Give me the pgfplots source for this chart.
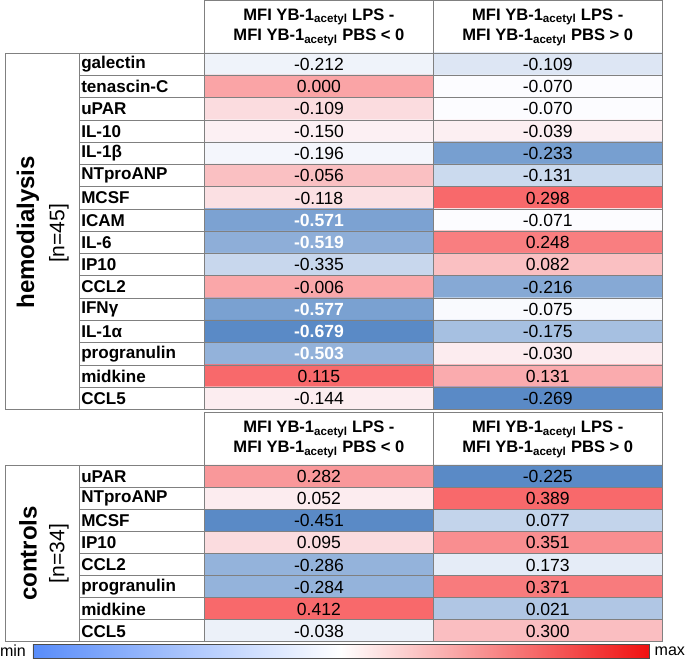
\documentclass[border=0pt]{standalone}
\usepackage{fontspec}
\setmainfont{Liberation Sans}
\usepackage{pgfplots}
\usepackage{pgfplotstable}
\pgfplotsset{compat=1.18}

\definecolor{xlblue}{RGB}{90,138,198}
\definecolor{xlwhite}{RGB}{252,252,255}
\definecolor{xlred}{RGB}{248,105,107}
\definecolor{barblue}{RGB}{88,140,250}
\definecolor{barred}{RGB}{240,16,16}
\definecolor{rule}{RGB}{128,128,128}

\tikzset{
  cellfont/.style={font=\fontsize{17.5}{20}\selectfont},
  namefont/.style={font=\fontsize{17}{20}\selectfont\bfseries},
}

% white bold label for the darkest cells
\protected\def\wb#1{\textcolor{white}{\bfseries #1}}

% c = colour position on the 3-colour scale (-1 min, 0 median, 1 max, per column)
\pgfplotstableread{
col row c label name
0 0 -0.08 -0.212 galectin
1 0 -0.19 -0.109 galectin
0 1 0.60 0.000 tenascin-C
1 1 0.00 -0.070 tenascin-C
0 2 0.22 -0.109 uPAR
1 2 0.00 -0.070 uPAR
0 3 0.08 -0.150 IL-10
1 3 0.09 -0.039 IL-10
0 4 -0.05 -0.196 IL-1β
1 4 -0.82 -0.233 IL-1β
0 5 0.41 -0.056 NTproANP
1 5 -0.30 -0.131 NTproANP
0 6 0.19 -0.118 MCSF
1 6 1.00 0.298 MCSF
0 7 -0.79 \wb{-0.571} ICAM
1 7 0.00 -0.071 ICAM
0 8 -0.68 \wb{-0.519} IL-6
1 8 0.86 0.248 IL-6
0 9 -0.32 -0.335 IP10
1 9 0.41 0.082 IP10
0 10 0.58 -0.006 CCL2
1 10 -0.73 -0.216 CCL2
0 11 -0.80 \wb{-0.577} IFNγ
1 11 -0.02 -0.075 IFNγ
0 12 -1.00 \wb{-0.679} IL-1α
1 12 -0.53 -0.175 IL-1α
0 13 -0.65 \wb{-0.503} progranulin
1 13 0.11 -0.030 progranulin
0 14 1.00 0.115 midkine
1 14 0.55 0.131 midkine
0 15 0.10 -0.144 CCL5
1 15 -1.00 -0.269 CCL5
}\hemo

\pgfplotstableread{
col row c label name
0 0 0.68 0.282 uPAR
1 0 -1.00 -0.225 uPAR
0 1 0.11 0.052 NTproANP
1 1 1.00 0.389 NTproANP
0 2 -1.00 -0.451 MCSF
1 2 -0.35 0.077 MCSF
0 3 0.22 0.095 IP10
1 3 0.75 0.351 IP10
0 4 -0.64 -0.286 CCL2
1 4 -0.14 0.173 CCL2
0 5 -0.64 -0.284 progranulin
1 5 0.88 0.371 progranulin
0 6 1.00 0.412 midkine
1 6 -0.47 0.021 midkine
0 7 -0.10 -0.038 CCL5
1 7 0.42 0.300 CCL5
}\ctrl

\begin{document}
\begin{tikzpicture}
\begin{axis}[
    width=685pt, height=657pt, scale only axis,
    xmin=0, xmax=685, ymin=0, ymax=657,
    y dir=reverse, hide axis, clip=false,
    colormap={xl}{color=(xlblue) color=(xlwhite) color=(xlred)},
    point meta min=-1, point meta max=1,
]
% cells
\addplot[matrix plot*, mesh/cols=2, point meta=explicit]
    table[x expr=319+228*\thisrow{col}, y expr=63.1+22.2*\thisrow{row}, meta=c] {\hemo};
\addplot[matrix plot*, mesh/cols=2, point meta=explicit]
    table[x expr=319+228*\thisrow{col}, y expr=474+22*\thisrow{row}, meta=c] {\ctrl};

% rules, block 1
\draw[rule, line width=1pt] (205,0) rectangle (661,52.5);
\draw[rule, line width=1pt] (433,0) -- (433,52.5);
\draw[rule, line width=1pt] (7,52.5) rectangle (661,407.7);
\pgfplotsinvokeforeach{1,...,15}{
  \draw[rule, line width=1pt] (80,{52.5+22.2*#1}) -- (661,{52.5+22.2*#1});
}
\draw[rule, line width=1pt] (80,52.5) -- (80,407.7);
\draw[rule, line width=1pt] (205,52.5) -- (205,407.7);
\draw[rule, line width=1pt] (433,52.5) -- (433,407.7);

% rules, block 2
\draw[rule, line width=1pt] (205,411) rectangle (661,463);
\draw[rule, line width=1pt] (433,411) -- (433,463);
\draw[rule, line width=1pt] (7,463) rectangle (661,639);
\pgfplotsinvokeforeach{1,...,7}{
  \draw[rule, line width=1pt] (80,{463+22*#1}) -- (661,{463+22*#1});
}
\draw[rule, line width=1pt] (80,463) -- (80,639);
\draw[rule, line width=1pt] (205,463) -- (205,639);
\draw[rule, line width=1pt] (433,463) -- (433,639);

% values
\addplot[draw=none, mark=none, nodes near coords, point meta=explicit symbolic,
    nodes near coords align=center,
    every node near coord/.append style={cellfont, anchor=center, inner sep=0pt}]
    table[x expr=319+228*\thisrow{col}, y expr=63.6+22.2*\thisrow{row}, meta=label] {\hemo};
\addplot[draw=none, mark=none, nodes near coords, point meta=explicit symbolic,
    nodes near coords align=center,
    every node near coord/.append style={cellfont, anchor=center, inner sep=0pt}]
    table[x expr=319+228*\thisrow{col}, y expr=474.5+22*\thisrow{row}, meta=label] {\ctrl};

% row names
\addplot[draw=none, mark=none, each nth point=2, nodes near coords, point meta=explicit symbolic,
    nodes near coords align=center,
    every node near coord/.append style={namefont, anchor=west, inner sep=0pt}]
    table[x expr=82, y expr=63.6+22.2*\thisrow{row}, meta=name] {\hemo};
\addplot[draw=none, mark=none, each nth point=2, nodes near coords, point meta=explicit symbolic,
    nodes near coords align=center,
    every node near coord/.append style={namefont, anchor=west, inner sep=0pt}]
    table[x expr=82, y expr=474.5+22*\thisrow{row}, meta=name] {\ctrl};

% headers
\pgfplotsinvokeforeach{26.5, 437.5}{
  \node[align=center, inner sep=0pt, font=\fontsize{16.5}{20}\selectfont\bfseries]
    at (319,#1) {MFI YB-1\textsubscript{acetyl} LPS -\\MFI YB-1\textsubscript{acetyl} PBS < 0};
  \node[align=center, inner sep=0pt, font=\fontsize{16.5}{20}\selectfont\bfseries]
    at (547,#1) {MFI YB-1\textsubscript{acetyl} LPS -\\MFI YB-1\textsubscript{acetyl} PBS > 0};
}

% group labels
\node[rotate=90, inner sep=0pt, font=\fontsize{24}{28}\selectfont\bfseries] at (29,231) {hemodialysis};
\node[rotate=90, inner sep=0pt, font=\fontsize{21}{24}\selectfont] at (60,232) {[n=45]};
\node[rotate=90, inner sep=0pt, font=\fontsize{24}{28}\selectfont\bfseries] at (29,551) {controls};
\node[rotate=90, inner sep=0pt, font=\fontsize{21}{24}\selectfont] at (60,551) {[n=34]};

% colour bar
\shade[left color=barblue, right color=barred, middle color=white] (34,642) rectangle (648,656);
\draw[black!70, line width=0.8pt] (34,642) rectangle (648,656);
\node[anchor=west, inner sep=0pt, font=\fontsize{16}{19}\selectfont] at (1,648) {min};
\node[anchor=east, inner sep=0pt, font=\fontsize{16}{19}\selectfont] at (684,648) {max};
\end{axis}
\end{tikzpicture}
\end{document}
